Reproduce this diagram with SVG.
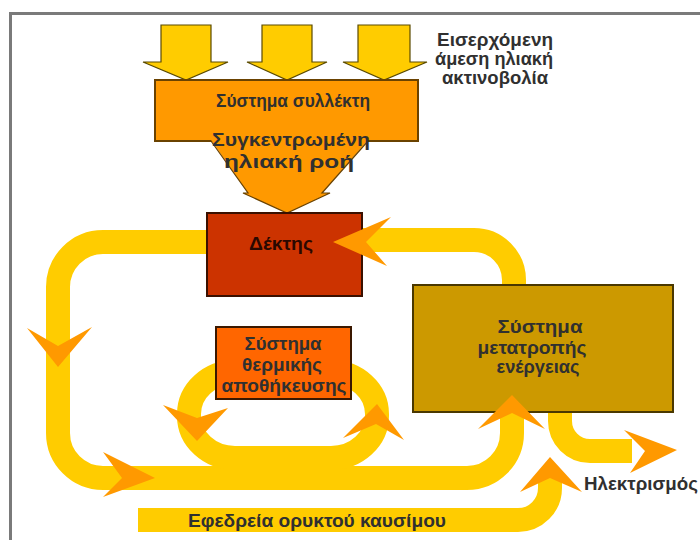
<svg xmlns="http://www.w3.org/2000/svg" width="700" height="540" viewBox="0 0 700 540">
  <style>
    .band { fill: none; stroke: #FFCC00; stroke-width: 24; stroke-linecap: butt; }
    .head { fill: #FF9900; }
    .ray { fill: #FFCC00; stroke: #5a4a00; stroke-width: 1.2; stroke-linejoin: miter; }
    .box { stroke-width: 2; }
    .lbl { font-family: "Liberation Sans", Arial, sans-serif; font-weight: bold; font-size: 19px; fill: #303030; text-anchor: middle; }
  </style>

  <!-- frame -->
  <rect x="0" y="0" width="700" height="540" fill="#ffffff"/>
  <line x1="9" y1="13.5" x2="700" y2="13.5" stroke="#7a7a7a" stroke-width="3"/>
  <line x1="10.5" y1="12" x2="10.5" y2="540" stroke="#7a7a7a" stroke-width="3"/>

  <g id="connectors">
    <!-- incoming solar rays -->
    <path class="ray" d="M161,25 H211 V62 H228 L186,80 L143,62 H161 Z"/>
    <path class="ray" d="M262,25 H312 V62 H327 L287,80 L247,62 H262 Z"/>
    <path class="ray" d="M358,25 H410 V62 H427 L384,80 L343,62 H358 Z"/>
    <!-- main heat-transfer loop -->
    <path class="band" d="M210,242 H103 A45,45 0 0 0 58,287 V433 A45,45 0 0 0 103,478 H467 A45,45 0 0 0 512,433 V405"/>
    <!-- return branch from conversion system to receiver -->
    <path class="band" d="M362,240 H474 A40,40 0 0 1 514,280 V292"/>
    <!-- storage loop -->
    <rect class="band" x="189" y="372" width="188" height="86" rx="46" ry="42" stroke-width="22"/>
    <!-- electricity output -->
    <path class="band" d="M560,405 V421 A30,30 0 0 0 590,451 H632"/>
    <!-- fossil fuel backup -->
    <path class="band" d="M138,520 H518 A32,32 0 0 0 550,488 V478"/>
  </g>

  <g id="collector">
    <rect class="box" x="155" y="80" width="263" height="61" fill="#FF9900" stroke="#6a4200"/>
    <path d="M211,140 H368 L322,193 H330 L287,213 L243,193 H248 Z" fill="#FF9900"/>
    <path d="M211,141 L248,193 H243 L287,213 L330,193 H322 L368,141" fill="none" stroke="#6a4200" stroke-width="1.2"/>
    <text class="lbl" x="293" y="107" textLength="154" lengthAdjust="spacingAndGlyphs">Σύστημα συλλέκτη</text>
    <text class="lbl" x="291" y="146" textLength="158" lengthAdjust="spacingAndGlyphs">Συγκεντρωμένη</text>
    <text class="lbl" x="289" y="168" textLength="130" lengthAdjust="spacingAndGlyphs">ηλιακή ροή</text>
  </g>

  <g id="receiver">
    <rect class="box" x="207" y="213" width="155" height="83" fill="#CC3300" stroke="#3a1000"/>
    <text class="lbl" x="281" y="250" style="fill:#2a0800" textLength="64" lengthAdjust="spacingAndGlyphs">Δέκτης</text>
  </g>

  <g id="storage">
    <rect class="box" x="216" y="327" width="135" height="72" fill="#FF6600" stroke="#3a1800"/>
    <text class="lbl" x="283" y="350" textLength="77" lengthAdjust="spacingAndGlyphs">Σύστημα</text>
    <text class="lbl" x="282" y="371" textLength="80" lengthAdjust="spacingAndGlyphs">θερμικής</text>
    <text class="lbl" x="284" y="392" textLength="125" lengthAdjust="spacingAndGlyphs">αποθήκευσης</text>
  </g>

  <g id="conversion">
    <rect class="box" x="413" y="285" width="260" height="127" fill="#CC9900" stroke="#4a3800"/>
    <text class="lbl" x="540" y="333" textLength="85" lengthAdjust="spacingAndGlyphs">Σύστημα</text>
    <text class="lbl" x="532" y="354" textLength="109" lengthAdjust="spacingAndGlyphs">μετατροπής</text>
    <text class="lbl" x="538" y="373" textLength="83" lengthAdjust="spacingAndGlyphs">ενέργειας</text>
  </g>

  <g id="arrowheads">
    <!-- into receiver -->
    <path class="head" d="M333,242 L391,217 L366,242 L387,266 Z"/>
    <!-- down the left side -->
    <path class="head" d="M58,367 L27,328 L58,346 L92,327 Z"/>
    <!-- along the bottom -->
    <path class="head" d="M155,478 L103,452 L122,478 L103,497 Z"/>
    <!-- up into conversion system -->
    <path class="head" d="M512,395 L545,429 L512,413 L478,429 Z"/>
    <!-- storage loop -->
    <path class="head" d="M197,441 L163,405 L197,418 L228,408 Z"/>
    <path class="head" d="M377,404 L404,440 L376,424 L343,438 Z"/>
    <!-- electricity -->
    <path class="head" d="M677,450 L624,430 L645,451 L630,473 Z"/>
    <!-- fossil fuel -->
    <path class="head" d="M550,457 L582,492 L550,478 L520,492 Z"/>
  </g>

  <g id="labels">
    <text class="lbl" x="495" y="46" textLength="116" lengthAdjust="spacingAndGlyphs">Εισερχόμενη</text>
    <text class="lbl" x="494" y="65" textLength="118" lengthAdjust="spacingAndGlyphs">άμεση ηλιακή</text>
    <text class="lbl" x="495" y="84" textLength="106" lengthAdjust="spacingAndGlyphs">ακτινοβολία</text>
    <text class="lbl" x="641" y="490" textLength="114" lengthAdjust="spacingAndGlyphs">Ηλεκτρισμός</text>
    <text class="lbl" x="317" y="527" textLength="258" lengthAdjust="spacingAndGlyphs">Εφεδρεία ορυκτού καυσίμου</text>
  </g>
</svg>
